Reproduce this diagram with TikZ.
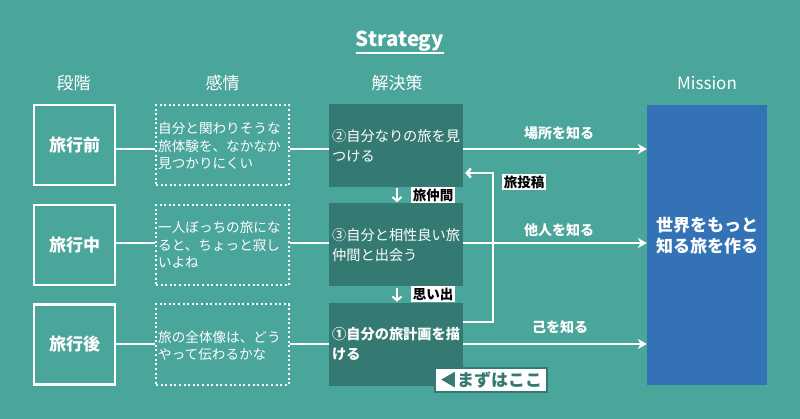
\documentclass[tikz,border=0pt]{standalone}
\usepackage{fontspec}
\setmainfont{Noto Sans CJK JP}
\usetikzlibrary{arrows.meta}
\definecolor{bg}{HTML}{4AA59A}
\definecolor{dk}{HTML}{347A73}
\definecolor{bl}{HTML}{3372B5}
\begin{document}
\begin{tikzpicture}[x=1pt,y=-1pt,
  stagebox/.style={draw=white,line width=2.5pt,minimum width=81pt,minimum height=80pt,inner sep=0pt,text=white,font=\bfseries\fontsize{17}{20}\selectfont},
  emobox/.style={draw=white,line width=2pt,dash pattern=on 2pt off 2.6pt,minimum width=133pt,minimum height=80pt,inner sep=0pt},
  emotext/.style={anchor=west,align=left,text=white,inner sep=0pt,font=\fontsize{13.6}{17.5}\selectfont},
  solbox/.style={fill=dk,minimum width=134pt,minimum height=83pt,inner sep=0pt},
  soltext/.style={anchor=west,align=left,text=white,inner sep=0pt,font=\fontsize{14.2}{20}\selectfont},
  header/.style={text=white,font=\fontsize{17}{20}\selectfont,inner sep=0pt},
  conn/.style={draw=white,line width=2.5pt},
  arr/.style={draw=white,line width=2.5pt,-{Stealth[length=9pt,width=10pt]}},
  barb/.style={draw=white,line width=2pt,-{Straight Barb[length=4pt,width=9pt]}},
  arrlabel/.style={text=white,font=\bfseries\fontsize{14}{16}\selectfont,inner sep=0pt},
  tag/.style={fill=white,text=black,font=\bfseries\fontsize{13.5}{15}\selectfont,inner sep=1.5pt,minimum height=16pt}
]
\useasboundingbox (0,0) rectangle (800,419);
\fill[bg] (0,0) rectangle (800,419);

% title
\node[text=white,font=\bfseries\fontsize{20.5}{24}\selectfont,inner sep=0pt] (title) at (400,41) {Strategy};
\draw[white,line width=1.6pt] (title.south west |- 0,53) -- (title.south east |- 0,53);

% headers
\node[header] (h1) at (73.5,83) {段階};
\node[header] (h2) at (222.5,83) {感情};
\node[header] (h3) at (397,83) {解決策};
\node[header] (h4) at (707,83) {Mission};

% stage boxes
\node[stagebox] (st1) at (74.5,145) {旅行前};
\node[stagebox] (st2) at (74.5,245) {旅行中};
\node[stagebox] (st3) at (74.5,344.5) {旅行後};

% emotion boxes
\node[emobox] (em1) at (222.5,145) {};
\node[emobox] (em2) at (222.5,245) {};
\node[emobox] (em3) at (222.5,344.5) {};
\node[emotext] (et1) at (158,146) {自分と関わりそうな\\旅体験を、なかなか\\見つかりにくい};
\node[emotext] (et2) at (158,245) {一人ぼっちの旅にな\\ると、ちょっと寂し\\いよね};
\node[emotext] (et3) at (158,346) {旅の全体像は、どう\\やって伝わるかな};

% solution boxes
\node[solbox] (so1) at (396,145.5) {};
\node[solbox] (so2) at (396,245) {};
\node[solbox] (so3) at (396,344.5) {};
\node[soltext] (sx1) at (332,145.5) {②自分なりの旅を見\\つける};
\node[soltext] (sx2) at (332,245) {③自分と相性良い旅\\仲間と出会う};
\node[soltext,font=\bfseries\fontsize{14.2}{20}\selectfont] (sx3) at (332,344.5) {①自分の旅計画を描\\ける};

% mission
\node[fill=bl,minimum width=120pt,minimum height=280pt,inner sep=0pt] (mis) at (707,245) {};
\node[text=white,align=center,inner sep=0pt,font=\bfseries\fontsize{17}{21}\selectfont] (mtext) at (707,236) {世界をもっと\\知る旅を作る};

% row levels
\coordinate (r1) at (0,149);
\coordinate (r2) at (0,243);
\coordinate (r3) at (0,344);

% connectors stage -> emotion -> solution
\draw[conn] (st1.east |- r1) -- (em1.west |- r1);
\draw[conn] (st2.east |- r2) -- (em2.west |- r2);
\draw[conn] (st3.east |- r3) -- (em3.west |- r3);
\draw[conn] (em1.east |- r1) -- (so1.west |- r1);
\draw[conn] (em2.east |- r2) -- (so2.west |- r2);
\draw[conn] (em3.east |- r3) -- (so3.west |- r3);

% feedback loop
\coordinate (fb1) at (493,322);
\coordinate (fb2) at (493,173);
\draw[barb,line width=2.5pt] (so3.east |- fb1) -- (fb1) -- (fb2) -- ([xshift=2pt]so1.east |- fb2);
\node[tag] (t3) at (524,182) {旅投稿};

% arrows to mission
\draw[arr] (so1.east |- r1) -- (mis.west |- r1);
\draw[arr] (so2.east |- r2) -- (mis.west |- r2);
\draw[arr] (so3.east |- r3) -- (mis.west |- r3);
\node[arrlabel] (l1) at (559,133) {場所を知る};
\node[arrlabel] (l2) at (559,230) {他人を知る};
\node[arrlabel] (l3) at (560,327) {己を知る};

% down arrows between solutions
\draw[barb] ([yshift=-1pt]so1.south -| 397,0) -- ([yshift=1pt]so2.north -| 397,0);
\draw[barb] ([yshift=-1pt]so2.south -| 397,0) -- ([yshift=1pt]so3.north -| 397,0);
\node[tag] (t1) at (433,195) {旅仲間};
\node[tag] (t2) at (433,294) {思い出};

% start here
\node[fill=white,draw=dk,line width=2pt,text=dk,inner sep=2pt,minimum width=112pt,minimum height=24pt,font=\bfseries\fontsize{17}{20}\selectfont] (start) at (491,380) {◀まずはここ};
\end{tikzpicture}
\end{document}
